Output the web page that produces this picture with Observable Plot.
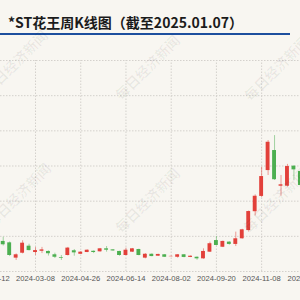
<!DOCTYPE html>
<html><head><meta charset="utf-8">
<script src="https://cdn.jsdelivr.net/npm/d3@7"></script>
<script src="https://cdn.jsdelivr.net/npm/@observablehq/plot@0.6"></script>
<style>
html,body{margin:0;padding:0;width:300px;height:300px;overflow:hidden;background:#f8f6f1;}
#wrap{position:relative;width:300px;height:300px;overflow:hidden;font-family:"Noto Sans CJK SC","Noto Sans",sans-serif;}
#head{position:relative;height:40px;}
#title{position:absolute;left:8px;top:12px;font-size:14px;font-weight:700;color:#1b1b1b;white-space:nowrap;line-height:20px;}
#bar{position:absolute;left:0;top:33px;width:290px;height:2px;background:#1d4f9e;}
.wm{position:absolute;width:90px;height:20px;line-height:20px;text-align:center;font-size:14px;color:rgba(0,0,0,0.06);transform:rotate(-45deg);white-space:nowrap;font-weight:700;pointer-events:none;font-family:"Noto Sans CJK SC",serif;}
</style></head>
<body>
<div id="wrap">
  <div id="head"><div id="title">*ST花王周K线图（截至2025.01.07）</div><div id="bar"></div></div>
  <div id="chart"></div>
</div>
<script>
const weeks = ["2024-01-12","2024-01-19","2024-01-26","2024-02-02","2024-02-08","2024-02-23","2024-03-01",
"2024-03-08","2024-03-15","2024-03-22","2024-03-29","2024-04-03","2024-04-12","2024-04-19",
"2024-04-26","2024-04-30","2024-05-10","2024-05-17","2024-05-24","2024-05-31","2024-06-07",
"2024-06-14","2024-06-21","2024-06-28","2024-07-05","2024-07-12","2024-07-19","2024-07-26",
"2024-08-02","2024-08-09","2024-08-16","2024-08-23","2024-08-30","2024-09-06","2024-09-13",
"2024-09-20","2024-09-27","2024-09-30","2024-10-11","2024-10-18","2024-10-25","2024-11-01",
"2024-11-08","2024-11-15","2024-11-22","2024-11-29","2024-12-06","2024-12-13","2024-12-20",
"2024-12-27","2025-01-03","2025-01-07"];
const tickLabels = ["2024-01-12","2024-03-08","2024-04-26","2024-06-14","2024-08-02","2024-09-20","2024-11-08","2024-12-27"];
const openP  = [1.86,1.73,1.71,1.63,0.76,1.04,1.44,1.08,1.15,1.14,0.95,0.78,0.91,1.18,0.98,1.08,1.15,1.12,1.29,1.23,1.14,0.91,1.10,1.25,0.76,0.98,0.87,0.95,0.84,0.81,0.95,0.80,0.81,0.72,1.10,1.76,1.38,1.67,1.54,1.86,2.33,3.40,4.27,5.74,6.88,4.85,4.85,5.99,5.69,4.95,5.35,5.00];
const closeP = [1.74,1.70,1.52,0.91,0.95,1.61,1.19,1.19,1.23,1.01,0.81,0.74,1.33,1.06,1.10,1.21,1.08,1.29,1.21,1.17,0.91,1.21,1.29,0.91,0.98,0.85,0.97,0.81,0.86,0.95,0.80,0.87,0.72,1.14,1.58,1.48,1.71,1.54,1.86,2.37,3.41,4.28,5.40,7.35,5.22,4.93,5.97,5.78,4.89,5.40,4.98,5.20];
const highP  = [1.95,1.80,1.95,1.68,1.00,1.75,1.55,1.37,1.37,1.17,1.04,0.91,1.37,1.25,1.12,1.23,1.17,1.31,1.42,1.25,1.15,1.33,1.31,1.27,1.02,1.00,0.98,0.96,0.88,0.96,0.96,0.88,0.83,1.29,1.67,1.99,1.73,1.69,2.24,2.40,3.44,4.36,5.93,7.45,7.73,5.46,6.09,6.01,5.74,5.52,5.45,5.30];
const lowP   = [1.70,1.62,1.45,0.85,0.63,1.00,1.17,0.91,1.02,0.88,0.74,0.63,0.88,0.87,0.97,1.07,1.02,1.10,1.10,1.15,0.87,0.89,1.08,0.89,0.72,0.84,0.86,0.80,0.83,0.76,0.78,0.79,0.64,0.70,1.08,1.46,1.36,1.50,1.42,1.84,2.24,3.16,4.20,5.46,5.18,4.28,4.80,5.18,4.80,4.90,4.85,4.95];
const gridValues = [0,2,4,6,8,10,12];

const RED = "#e2403a", GREEN = "#4caf50";
const data = weeks.map((w,i)=>({week:w, open:openP[i], close:closeP[i], high:highP[i], low:lowP[i]}));
const col = d => d.close >= d.open ? RED : GREEN;

const chart = Plot.plot({
  width: 300, height: 260,
  marginTop: 20, marginBottom: 29, marginLeft: 0, marginRight: 0,
  style: {background: "transparent", fontFamily: "'Liberation Sans', Arial, sans-serif", fontSize: "7.6px", color: "#555"},
  x: {type: "band", domain: weeks, range: [-14.72, 323.8], padding: 0.4, round: false, tickSize: 0, tickPadding: 4.5,
      tickFormat: d => tickLabels.includes(d) ? d : "", label: null},
  y: {domain: [0, 12], axis: null},
  marks: [
    Plot.ruleY(gridValues, {stroke: "#d4d1cc", strokeDasharray: "1.5,1.5"}),
    Plot.ruleX(tickLabels, {x: d => d, y1: 0, y2: 12, stroke: "#d4d1cc", strokeDasharray: "1.5,1.5", clip: true}),
    Plot.ruleX(data, {x: "week", y1: "low", y2: "high", stroke: col, strokeOpacity: 0.5, clip: true}),
    Plot.barY(data, {x: "week", y1: "open", y2: "close", fill: col, clip: true})
  ]
});
document.getElementById("chart").appendChild(chart);

const wmText = "每日经济新闻";
[[15,62],[147,67],[276,68],[18,195],[147,200],[275,200]].forEach(([cx,cy])=>{
  const d = document.createElement("div");
  d.className = "wm"; d.textContent = wmText;
  d.style.left = (cx-45)+"px"; d.style.top = (cy-10)+"px";
  document.getElementById("wrap").appendChild(d);
});
</script>
</body></html>
